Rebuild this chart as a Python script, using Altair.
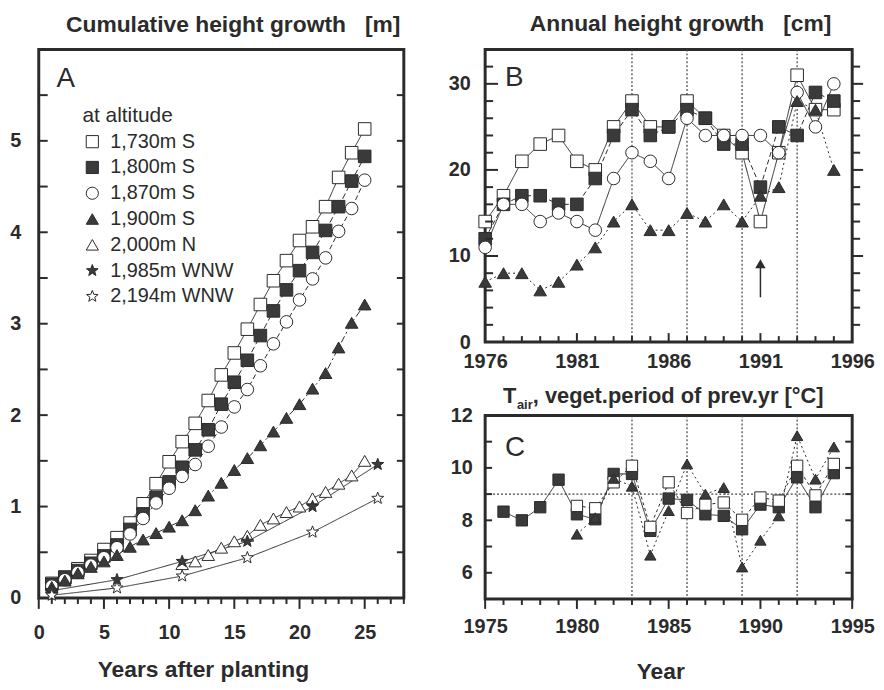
import math
import altair as alt
import pandas as pd

FONT = "Liberation Sans"
INK = "#2b2b2b"
DARK = "#3a3a3a"

# ---------------- Panel A: cumulative height growth [m] ----------------
A_names = ["1,730m S", "1,800m S", "1,870m S", "1,900m S", "2,000m N", "1,985m WNW", "2,194m WNW"]
A_years_full = list(range(1, 26))
A_sq_open = [0.16, 0.23, 0.32, 0.41, 0.53, 0.66, 0.82, 1.03, 1.25, 1.49, 1.71, 1.91, 2.16, 2.44, 2.68,
             2.94, 3.21, 3.47, 3.69, 3.91, 4.06, 4.28, 4.60, 4.87, 5.13]
A_sq_fill = [0.15, 0.22, 0.30, 0.38, 0.46, 0.58, 0.75, 0.92, 1.10, 1.27, 1.43, 1.62, 1.84, 2.12, 2.36,
             2.60, 2.87, 3.14, 3.37, 3.58, 3.78, 4.02, 4.28, 4.56, 4.83]
A_circ = [0.13, 0.20, 0.28, 0.36, 0.44, 0.55, 0.70, 0.87, 1.04, 1.20, 1.33, 1.46, 1.66, 1.87, 2.09,
          2.28, 2.54, 2.78, 3.02, 3.26, 3.49, 3.72, 4.01, 4.26, 4.57]
A_tri_fill = [0.12, 0.19, 0.27, 0.34, 0.40, 0.47, 0.56, 0.64, 0.71, 0.78, 0.85, 0.96, 1.12, 1.26, 1.40,
              1.53, 1.67, 1.82, 1.97, 2.12, 2.29, 2.46, 2.74, 3.01, 3.21]
A_years_tri_open = list(range(11, 26))
A_tri_open = [0.37, 0.40, 0.47, 0.55, 0.62, 0.68, 0.80, 0.87, 0.94, 1.00, 1.09, 1.16, 1.25, 1.34, 1.50]
A_years_star = [1, 6, 11, 16, 21, 26]
A_star_fill = [0.08, 0.20, 0.40, 0.62, 1.00, 1.46]
A_star_open = [0.03, 0.11, 0.24, 0.44, 0.72, 1.09]

# ---------------- Panel B: annual height growth [cm] ----------------
B_names = ["1,730m S", "1,800m S", "1,870m S", "1,900m S"]
B_years = list(range(1976, 1996))
B_sq_open = [14, 17, 21, 23, 24, 21, 20, 25, 28, 25, 25, 28, 26, 24, 22, 14, 22, 31, 27, 27]
B_sq_fill = [12, 16, 17, 17, 16, 16, 19, 24, 27, 24, 25, 27, 26, 23, 23, 18, 25, 24, 29, 28]
B_circ = [11, 16, 16, 14, 15, 14, 13, 19, 22, 21, 19, 26, 24, 24, 24, 24, 22, 29, 25, 30]
B_tri = [7, 8, 8, 6, 7, 9, 11, 14, 16, 13, 13, 15, 14, 16, 14, 17, 18, 28, 27, 20]
B_vlines = [1984, 1987, 1990, 1993]
B_arrow_year = [1991]
B_arrow_from = [5.2]
B_arrow_to = [8.6]
B_arrow_head = [9.1]

# ---------------- Panel C: air temperature of previous year's vegetation period ----------------
C_names = ["1,800m S", "1,730m S", "1,900m S"]
C_years_fill = list(range(1976, 1995))
C_sq_fill = [8.33, 8.0, 8.5, 9.55, 8.23, 8.04, 9.77, 9.77, 7.6, 8.83, 8.78, 8.23, 8.17, 7.66, 8.6,
             8.5, 9.64, 8.5, 9.8]
C_years_open = list(range(1980, 1995))
C_sq_open = [8.55, 8.46, 9.45, 10.08, 7.75, 9.45, 8.28, 8.6, 8.68, 8.02, 8.87, 8.75, 10.08, 8.95, 10.15]
C_years_tri = list(range(1980, 1995))
C_tri = [7.47, 8.1, 9.6, 9.3, 6.67, 8.37, 10.15, 9.0, 9.25, 6.22, 7.24, 8.17, 11.23, 9.57, 10.8]
C_vlines = [1983, 1986, 1989, 1992]
C_hline = [9]


def star_path(r_in=0.42):
    pts = []
    for k in range(10):
        ang = math.radians(-90 + 36 * k)
        r = 1.0 if k % 2 == 0 else r_in
        pts.append(f"{r * math.cos(ang):.3f},{r * math.sin(ang):.3f}")
    return "M" + "L".join(pts) + "Z"


STAR = star_path()


def frame(names, xs_list, ys_list):
    rows = []
    for n, xs, ys in zip(names, xs_list, ys_list):
        for x, y in zip(xs, ys):
            rows.append({"s": n, "x": x, "y": y})
    return pd.DataFrame(rows)


def xaxis(values, pad):
    return alt.Axis(values=values, title=None, ticks=False, domain=False, grid=False, format="d",
                    labelFont=FONT, labelFontSize=20, labelFontWeight="bold", labelColor=INK,
                    labelPadding=pad, labelFlush=False, labelOverlap=False)


def yaxis(values, pad):
    return alt.Axis(values=values, title=None, ticks=False, domain=False, grid=False,
                    labelFont=FONT, labelFontSize=20, labelFontWeight="bold", labelColor=INK,
                    labelPadding=pad, labelOverlap=False)


class Panel:
    def __init__(self, xscale, yscale, xax, yax):
        self.xs, self.ys, self.xax, self.yax = xscale, yscale, xax, yax

    def X(self, f):
        return alt.X(f, scale=self.xs, axis=self.xax)

    def Y(self, f):
        return alt.Y(f, scale=self.ys, axis=self.yax)

    def vticks(self, vals, y0, y1, w=2):
        return alt.Chart(pd.DataFrame({"v": vals})).mark_rule(color=INK, strokeWidth=w).encode(
            x=self.X("v:Q"), y=alt.value(y0), y2=alt.value(y1))

    def hticks(self, vals, x0, x1, w=2):
        return alt.Chart(pd.DataFrame({"v": vals})).mark_rule(color=INK, strokeWidth=w).encode(
            y=self.Y("v:Q"), x=alt.value(x0), x2=alt.value(x1))

    def vlines(self, vals):
        return alt.Chart(pd.DataFrame({"v": vals})).mark_rule(
            color="#444", strokeWidth=1.2, strokeDash=[2, 2]).encode(x=self.X("v:Q"))

    def hlines(self, vals):
        return alt.Chart(pd.DataFrame({"v": vals})).mark_rule(
            color="#444", strokeWidth=1.2, strokeDash=[2, 2]).encode(y=self.Y("v:Q"))

    def line(self, xs, ys, dash):
        return alt.Chart(pd.DataFrame({"x": xs, "y": ys})).mark_line(
            color=INK, strokeWidth=1, strokeDash=dash).encode(x=self.X("x:Q"), y=self.Y("y:Q"))

    def points(self, df, names, shapes, fills, size, legend=None):
        return alt.Chart(df).mark_point(filled=True, size=size, strokeWidth=1, opacity=1).encode(
            x=self.X("x:Q"), y=self.Y("y:Q"),
            shape=alt.Shape("s:N", scale=alt.Scale(domain=names, range=shapes), legend=legend),
            fill=alt.Fill("s:N", scale=alt.Scale(domain=names, range=fills), legend=legend),
            stroke=alt.Stroke("s:N", scale=alt.Scale(domain=names, range=[INK] * len(names)), legend=legend),
        )


def text(t, x, y, size, weight="bold", align="center"):
    return alt.Chart(pd.DataFrame({"t": [t]})).mark_text(
        font=FONT, fontSize=size, fontWeight=weight, align=align, baseline="alphabetic", color=INK
    ).encode(text="t:N", x=alt.value(x), y=alt.value(y))


# ======================= Panel A =======================
WA, HA = 368, 553
pA = Panel(alt.Scale(domain=[0, 28], nice=False, zero=False),
           alt.Scale(domain=[0, 6], nice=False, zero=False),
           xaxis([0, 5, 10, 15, 20, 25], 25), yaxis([0, 1, 2, 3, 4, 5], 18))
A_x = [A_years_full, A_years_full, A_years_full, A_years_full, A_years_tri_open, A_years_star, A_years_star]
A_y = [A_sq_open, A_sq_fill, A_circ, A_tri_fill, A_tri_open, A_star_fill, A_star_open]
dfA = frame(A_names, A_x, A_y)
A_shapes = ["square", "square", "circle", "triangle-up", "triangle-up", STAR, STAR]
A_fills = ["white", DARK, "white", DARK, "white", DARK, "white"]
A_dashes = [[1, 0], [6, 3], [5, 3], [7, 3, 2, 3], [1, 0], [1, 0], [1, 0]]

legA = alt.Legend(title="at altitude", orient="none", legendX=44, legendY=56, padding=0,
                  titleFont=FONT, titleFontSize=21, titleFontWeight="normal", titleColor=INK,
                  titlePadding=6, labelFont=FONT, labelFontSize=20, labelColor=INK, labelOffset=8,
                  symbolSize=150, symbolStrokeColor=INK, symbolStrokeWidth=1, symbolOpacity=1,
                  rowPadding=6)

A_minor_y = [v / 2 for v in range(1, 12)]
A_xt = list(range(0, 29))
layersA = [pA.line(xs, ys, d) for xs, ys, d in zip(A_x, A_y, A_dashes)] + [
    pA.points(dfA, A_names, A_shapes, A_fills, 160, legA),
    pA.hticks(A_minor_y, 0, 9),
    pA.hticks(A_minor_y, WA - 7, WA),
    pA.vticks([v for v in A_xt if v % 5], HA, HA + 6),
    pA.vticks([v for v in A_xt if v % 5 == 0], HA, HA + 11),
    text("Cumulative height growth\u00a0\u00a0\u00a0[m]", 196, -18, 23),
    text("Years after planting", 166, 633, 23),
    text("A", 18, 38, 28, weight="normal", align="left"),
]
A = alt.layer(*layersA).properties(width=WA, height=HA)

# ======================= Panel B =======================
WB, HB = 370, 295
pB = Panel(alt.Scale(domain=[1976, 1996], nice=False, zero=False),
           alt.Scale(domain=[0, 34], nice=False, zero=False),
           xaxis([1976, 1981, 1986, 1991, 1996], 10), yaxis([0, 10, 20, 30], 15))
B_y = [B_sq_open, B_sq_fill, B_circ, B_tri]
dfB = frame(B_names, [B_years] * 4, B_y)
B_shapes = ["square", "square", "circle", "triangle-up"]
B_fills = ["white", DARK, "white", DARK]
B_dashes = [[1, 0], [5, 3], [1, 0], [2, 3]]

arrowB = alt.Chart(pd.DataFrame({"x": B_arrow_year, "a": B_arrow_from, "b": B_arrow_to})).mark_rule(
    color=INK, strokeWidth=1.5).encode(x=pB.X("x:Q"), y=pB.Y("a:Q"), y2="b:Q")
headB = alt.Chart(pd.DataFrame({"x": B_arrow_year, "y": B_arrow_head})).mark_point(
    shape="triangle-up", filled=True, size=110, color=INK, opacity=1).encode(x=pB.X("x:Q"), y=pB.Y("y:Q"))
B_yt = list(range(2, 34, 2))
B_xt = list(range(1977, 1996))
layersB = [pB.vlines(B_vlines)] + [pB.line(B_years, ys, d) for ys, d in zip(B_y, B_dashes)] + [
    pB.points(dfB, B_names, B_shapes, B_fills, 160),
    arrowB, headB,
    pB.hticks([v for v in B_yt if v % 10], 0, 8),
    pB.hticks([v for v in B_yt if v % 10 == 0], 0, 13),
    pB.hticks([v for v in B_yt if v % 10], WB, WB + 8),
    pB.hticks([v for v in B_yt if v % 10 == 0], WB, WB + 11),
    pB.vticks([v for v in B_xt if (v - 1976) % 5], HB - 6, HB),
    pB.vticks([v for v in B_xt if (v - 1976) % 5 == 0], HB - 9, HB),
    text("Annual height growth\u00a0\u00a0\u00a0[cm]", 197, -19, 23),
    text("B", 20, 37, 28, weight="normal", align="left"),
]
B = alt.layer(*layersB).properties(width=WB, height=HB)

# ======================= Panel C =======================
WC, HC = 370, 185
pC = Panel(alt.Scale(domain=[1975, 1995], nice=False, zero=False),
           alt.Scale(domain=[5, 12], nice=False, zero=False),
           xaxis([1975, 1980, 1985, 1990, 1995], 18), yaxis([6, 8, 10, 12], 13))
C_x = [C_years_fill, C_years_open, C_years_tri]
C_y = [C_sq_fill, C_sq_open, C_tri]
dfC = frame(C_names, C_x, C_y)
C_shapes = ["square", "square", "triangle-up"]
C_fills = [DARK, "white", DARK]
C_dashes = [[1, 0], [3, 3], [2, 3]]

C_yt = list(range(6, 12))
C_xt = list(range(1975, 1996))
layersC = [pC.vlines(C_vlines), pC.hlines(C_hline)] + [
    pC.line(xs, ys, d) for xs, ys, d in zip(C_x, C_y, C_dashes)] + [
    pC.points(dfC, C_names, C_shapes, C_fills, 130),
    pC.hticks(C_yt, 0, 7),
    pC.hticks(C_yt, WC - 7, WC),
    pC.vticks([v for v in C_xt if v % 5], HC, HC + 6),
    pC.vticks([v for v in C_xt if v % 5 == 0], HC, HC + 10),
    text("T", 18, -13, 22, align="left"),
    text("air", 32, -7, 13, align="left"),
    text(", veget.period of prev.yr [°C]", 48, -13, 22, align="left"),
    text("Year", 177, 266, 23),
    text("C", 20, 41, 28, weight="normal", align="left"),
]
C = alt.layer(*layersC).properties(width=WC, height=HC)

right = alt.vconcat(B, C, spacing=74, bounds="flush").resolve_scale(
    shape="independent", fill="independent", stroke="independent")
chart = alt.hconcat(A, right, spacing=82, bounds="flush").resolve_scale(
    shape="independent", fill="independent", stroke="independent"
).properties(
    padding={"left": 0, "top": 0, "right": 0, "bottom": 0}, background="white"
).configure_view(stroke=INK, strokeWidth=3)

chart.save("out.html", embed_options={"renderer": "svg", "actions": False})
